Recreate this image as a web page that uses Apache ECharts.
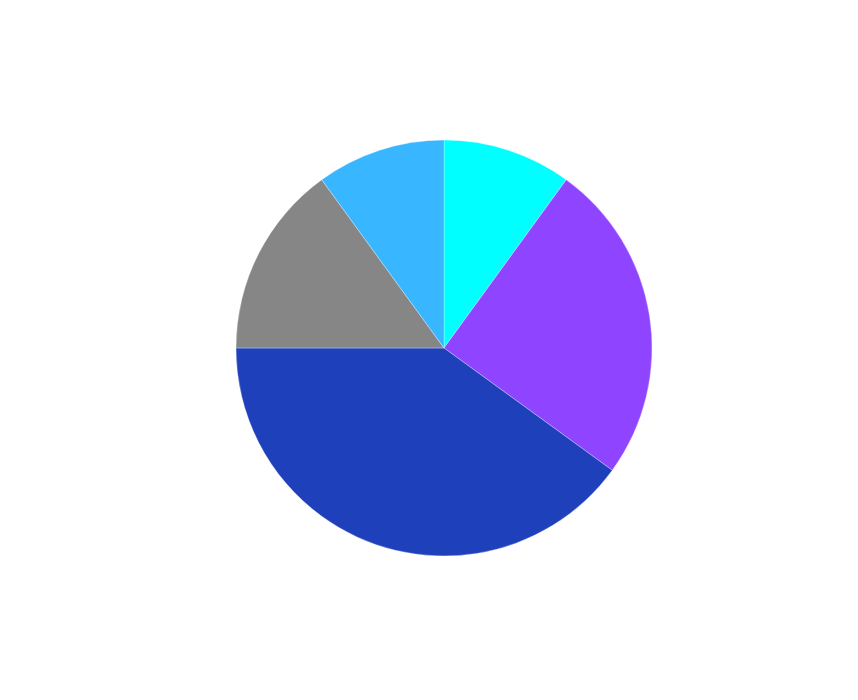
<!DOCTYPE html>
<html>
<head>
<meta charset="utf-8">
<script src="https://cdn.jsdelivr.net/npm/echarts@6/dist/echarts.min.js"></script>
<style>html,body{margin:0;padding:0;background:#fff;}#chart{width:858px;height:700px;}</style>
</head>
<body>
<div id="chart"></div>
<script>
const categories = ['A', 'B', 'C', 'D', 'E'];
const values = [10, 25, 40, 15, 10];
const colors = ['#00FFFF', '#8F44FF', '#1E41BB', '#868686', '#38B6FF'];

const chart = echarts.init(document.getElementById('chart'), null, {renderer: 'canvas'});
chart.setOption({
  animation: false,
  backgroundColor: '#ffffff',
  series: [{
    type: 'pie',
    center: [444, 348],
    radius: [0, 208],
    startAngle: 90,
    clockwise: true,
    label: {show: false},
    labelLine: {show: false},
    itemStyle: {borderColor: 'rgba(255,255,255,0.6)', borderWidth: 0.5},
    data: categories.map((c, i) => ({name: c, value: values[i], itemStyle: {color: colors[i]}}))
  }]
});
</script>
</body>
</html>
